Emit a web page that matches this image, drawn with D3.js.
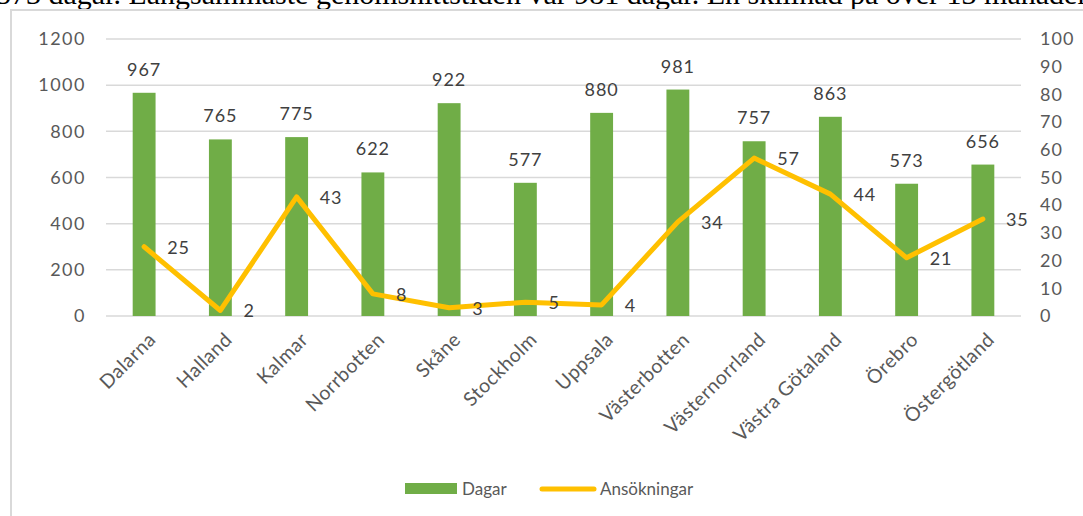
<!DOCTYPE html>
<html>
<head>
<meta charset="utf-8">
<script src="https://cdn.jsdelivr.net/npm/d3@7"></script>
<style>
  body { margin: 0; background: #fff; overflow: hidden; }
</style>
</head>
<body>
<div id="container"></div>
<script>
// Dagar (bars, left axis) and Ansökningar (line, right axis) per län

const width = 1083;
const height = 516;

const regions = ["Dalarna", "Halland", "Kalmar", "Norrbotten", "Skåne", "Stockholm",
  "Uppsala", "Västerbotten", "Västernorrland", "Västra Götaland", "Örebro", "Östergötland"];
const dagar = [967, 765, 775, 622, 922, 577, 880, 981, 757, 863, 573, 656];
const ansokningar = [25, 2, 43, 8, 3, 5, 4, 34, 57, 44, 21, 35];
const leftTicks = [0, 200, 400, 600, 800, 1000, 1200];
const rightTicks = [0, 10, 20, 30, 40, 50, 60, 70, 80, 90, 100];

const green = "#70AD47";
const yellow = "#FFC000";
const grey = "#595959";
const font = "Lato, 'Open Sans', sans-serif";

const svg = d3.select("#container")
    .append("svg")
    .attr("width", width)
    .attr("height", height)
    .style("background-color", "white");

// text from the surrounding document, cut off at the top
svg.append("text")
    .attr("x", -4)
    .attr("y", 4)
    .style("font-family", "'Liberation Serif', serif")
    .style("font-size", "30px")
    .attr("fill", "#000")
    .text("573 dagar. Långsammaste genomsnittstiden var 981 dagar. En skillnad på över 13 månader");

// chart frame
svg.append("rect")
    .attr("x", 11)
    .attr("y", 10)
    .attr("width", 1100)
    .attr("height", 540)
    .attr("fill", "none")
    .attr("stroke", "#d9d9d9")
    .attr("stroke-width", 2);

const plot = { left: 106, right: 1021, top: 39, bottom: 316 };

const x = d3.scaleBand()
    .domain(regions)
    .range([plot.left, plot.right])
    .paddingInner(0.7)
    .paddingOuter(0.35);

const yLeft = d3.scaleLinear().domain([0, 1200]).range([plot.bottom, plot.top]);
const yRight = d3.scaleLinear().domain([0, 100]).range([plot.bottom, plot.top]);

// gridlines
svg.append("g")
    .selectAll("line")
    .data(leftTicks)
    .join("line")
    .attr("x1", plot.left)
    .attr("x2", plot.right)
    .attr("y1", d => yLeft(d))
    .attr("y2", d => yLeft(d))
    .attr("stroke", "#d9d9d9")
    .attr("stroke-width", 1.5);

// left axis
const leftAxis = svg.append("g")
    .attr("transform", `translate(${plot.left},0)`)
    .call(d3.axisLeft(yLeft).tickValues(leftTicks).tickFormat(d3.format("d")).tickSize(0).tickPadding(20));
leftAxis.select(".domain").remove();
leftAxis.selectAll("text")
    .style("font-family", font)
    .style("font-size", "18px")
    .style("letter-spacing", "1.5px")
    .attr("fill", grey);

// right axis
const rightAxis = svg.append("g")
    .attr("transform", `translate(${plot.right},0)`)
    .call(d3.axisRight(yRight).tickValues(rightTicks).tickFormat(d3.format("d")).tickSize(0).tickPadding(19));
rightAxis.select(".domain").remove();
rightAxis.selectAll("text")
    .style("font-family", font)
    .style("font-size", "18px")
    .style("letter-spacing", "1px")
    .attr("fill", grey);

// bars
svg.append("g")
    .selectAll("rect")
    .data(regions)
    .join("rect")
    .attr("x", d => x(d))
    .attr("width", x.bandwidth())
    .attr("y", (d, i) => yLeft(dagar[i]))
    .attr("height", (d, i) => yLeft(0) - yLeft(dagar[i]))
    .attr("fill", green);

// bar labels
svg.append("g")
    .selectAll("text")
    .data(regions)
    .join("text")
    .attr("x", d => x(d) + x.bandwidth() / 2)
    .attr("y", (d, i) => yLeft(dagar[i]) - 17)
    .attr("text-anchor", "middle")
    .style("font-family", font)
    .style("font-size", "18px")
    .style("letter-spacing", "1px")
    .attr("fill", "#404040")
    .text((d, i) => dagar[i]);

// x axis labels
svg.append("g")
    .selectAll("text")
    .data(regions)
    .join("text")
    .attr("transform", d => `translate(${x(d) + x.bandwidth() / 2 + 8},${plot.bottom + 20}) rotate(-45)`)
    .attr("text-anchor", "end")
    .attr("dy", "0.35em")
    .style("font-family", font)
    .style("font-size", "19.5px")
    .style("letter-spacing", "0.5px")
    .attr("fill", grey)
    .text(d => d);

// line
const line = d3.line()
    .x((d, i) => x(regions[i]) + x.bandwidth() / 2)
    .y(d => yRight(d));

svg.append("path")
    .datum(ansokningar)
    .attr("d", line)
    .attr("fill", "none")
    .attr("stroke", yellow)
    .attr("stroke-width", 5)
    .attr("stroke-linejoin", "round")
    .attr("stroke-linecap", "round");

// line labels
svg.append("g")
    .selectAll("text")
    .data(ansokningar)
    .join("text")
    .attr("x", (d, i) => x(regions[i]) + x.bandwidth() / 2 + 23)
    .attr("y", d => yRight(d))
    .attr("dy", "0.38em")
    .style("font-family", font)
    .style("font-size", "18px")
    .style("letter-spacing", "1px")
    .attr("fill", "#404040")
    .text(d => d);

// legend
const legend = svg.append("g");
legend.append("rect")
    .attr("x", 405)
    .attr("y", 483)
    .attr("width", 52)
    .attr("height", 11)
    .attr("fill", green);
legend.append("text")
    .attr("x", 462)
    .attr("y", 495)
    .style("font-family", font)
    .style("font-size", "17px")
    .attr("fill", grey)
    .text("Dagar");
legend.append("line")
    .attr("x1", 542)
    .attr("x2", 594)
    .attr("y1", 489)
    .attr("y2", 489)
    .attr("stroke", yellow)
    .attr("stroke-width", 5)
    .attr("stroke-linecap", "round");
legend.append("text")
    .attr("x", 600)
    .attr("y", 495)
    .style("font-family", font)
    .style("font-size", "17px")
    .attr("fill", grey)
    .text("Ansökningar");
</script>
</body>
</html>
